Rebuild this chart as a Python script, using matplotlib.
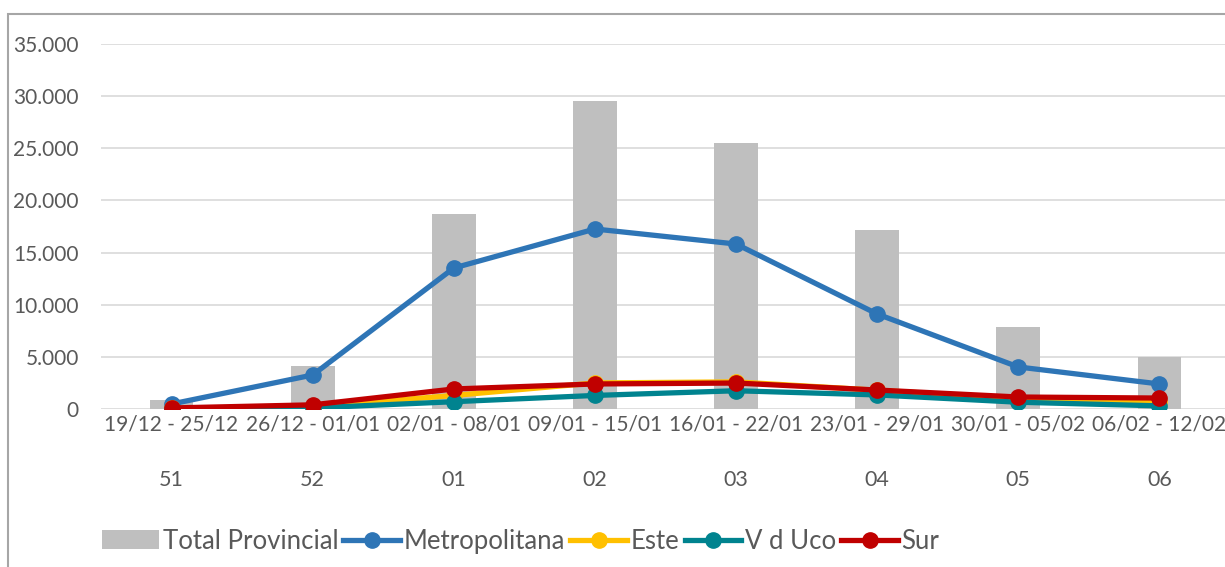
import matplotlib
matplotlib.use("Agg")
import matplotlib.pyplot as plt
from matplotlib.patches import Rectangle
from matplotlib.ticker import FuncFormatter

plt.rcParams['font.family'] = ['Lato', 'DejaVu Sans']

semanas = ["51", "52", "01", "02", "03", "04", "05", "06"]
fechas = ["19/12 - 25/12", "26/12 - 01/01", "02/01 - 08/01", "09/01 - 15/01",
          "16/01 - 22/01", "23/01 - 29/01", "30/01 - 05/02", "06/02 - 12/02"]

total_provincial = [860, 4120, 18700, 29530, 25500, 17160, 7860, 4990]
metropolitana = [480, 3260, 13520, 17260, 15820, 9110, 4030, 2400]
este = [50, 200, 1300, 2500, 2600, 1800, 1000, 700]
v_d_uco = [30, 100, 700, 1300, 1750, 1350, 650, 300]
sur = [100, 400, 1920, 2400, 2490, 1820, 1150, 1050]

texto = '#595959'

fig = plt.figure(figsize=(12.25, 5.67), dpi=100)
W, H = 1225, 567
ax = fig.add_axes([101 / W, (H - 409) / H, 1129 / W, 365 / H])

x = list(range(len(semanas)))
barras = ax.bar(x, total_provincial, width=0.31, color='#bfbfbf', label='Total Provincial', zorder=2)

series = [
    (metropolitana, '#2e75b6', 'Metropolitana'),
    (este, '#ffc000', 'Este'),
    (v_d_uco, '#00838f', 'V d Uco'),
    (sur, '#c00000', 'Sur'),
]
lineas = []
for valores, color, nombre in series:
    ln, = ax.plot(x, valores, color=color, lw=3.8, marker='o', ms=11, label=nombre, zorder=3)
    lineas.append(ln)

ax.set_xlim(-0.5, len(semanas) - 0.5)
ax.set_ylim(0, 35000)
ax.set_yticks(range(0, 35001, 5000))
ax.yaxis.set_major_formatter(FuncFormatter(lambda v, p: f"{v:,.0f}".replace(",", ".")))
ax.grid(axis='y', color='#d9d9d9', lw=1.2, zorder=0)
ax.set_axisbelow(True)
for s in ax.spines.values():
    s.set_visible(False)
ax.tick_params(axis='both', length=0, labelsize=15, labelcolor=texto)
ax.tick_params(axis='y', pad=16)
ax.tick_params(axis='x', pad=4)
ax.set_xticks(x)
ax.set_xticklabels(fechas)

# segunda fila: numero de semana
for i, s in enumerate(semanas):
    ax.annotate(s, xy=(i, 0), xycoords=('data', 'axes fraction'),
                xytext=(0, -44), textcoords='offset points',
                ha='center', va='top', fontsize=15.5, color=texto)

fig.legend([barras] + lineas, ['Total Provincial'] + [n for _, _, n in series],
           loc='lower left', bbox_to_anchor=(92 / W, 3 / H), ncol=5, frameon=False,
           fontsize=18.5, labelcolor=texto, handlelength=2.2, handletextpad=0.15,
           columnspacing=0.2, handleheight=0.75, numpoints=1, borderaxespad=0)

# marco del area del grafico
fig.patches.append(Rectangle((8 / W, -0.5), 2, 1.5 - 14 / H, transform=fig.transFigure,
                             fill=False, edgecolor='#a6a6a6', lw=1.5))

fig.savefig('out.png', dpi=100)
